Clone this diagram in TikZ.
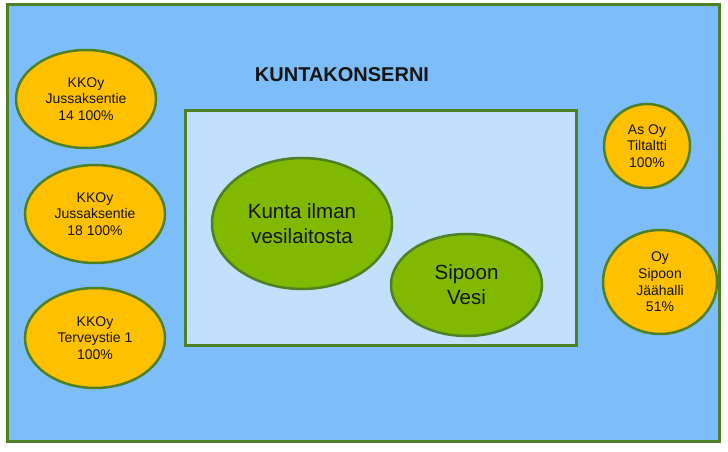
\documentclass[tikz,border=0pt]{standalone}
\usepackage{fontspec}
\setmainfont{Liberation Sans}
\usepackage{xcolor}
\usepackage{tikz}
\usetikzlibrary{shapes.geometric}
\definecolor{outerblue}{RGB}{125,190,250}
\definecolor{innerblue}{RGB}{192,224,252}
\definecolor{framegreen}{RGB}{78,128,36}
\definecolor{unitorange}{RGB}{255,192,0}
\definecolor{unitgreen}{RGB}{128,185,0}
\definecolor{textdark}{RGB}{20,20,20}

\begin{document}
\begin{tikzpicture}[x=1pt, y=1pt, node distance=115pt]
    \tikzstyle{frame} = [rectangle, draw=framegreen, line width=3pt, inner sep=0pt]
    \tikzstyle{company} = [ellipse, draw=framegreen, line width=2.5pt, fill=unitorange, inner sep=0pt, align=center, text=textdark, font=\fontsize{14}{16.7}\selectfont]
    \tikzstyle{core} = [ellipse, draw=framegreen, line width=2.5pt, fill=unitgreen, inner sep=0pt, align=center, text=textdark, font=\fontsize{20.5}{25}\selectfont]

    \useasboundingbox (0,0) rectangle (728,452);

    % Konserni frames
    \node [frame, fill=outerblue, minimum width=712pt, minimum height=437pt] (konserni) at (363,228.5) {};
    \node [frame, fill=innerblue, minimum width=391pt, minimum height=235pt] (kunta_box) at (380.5,223.5) {};
    \node [text=textdark, font=\bfseries\fontsize{20}{24}\selectfont] (title) at (342,377) {KUNTAKONSERNI};

    % Core of the municipality
    \node [core, minimum width=180pt, minimum height=131pt] (kunta) at (302,228.5) {Kunta ilman\\vesilaitosta};
    \node [core, minimum width=151pt, minimum height=102pt, right of=kunta, xshift=49.5pt, yshift=-61.5pt] (vesi) {Sipoon\\Vesi};

    % Housing companies on the left
    \node [company, minimum width=140pt, minimum height=98pt] (kkoy_a) at (86,353) {KKOy\\Jussaksentie\\14 100\%};
    \node [company, minimum width=140pt, minimum height=98pt, below of=kkoy_a, xshift=9pt] (kkoy_b) {KKOy\\Jussaksentie\\18 100\%};
    \node [company, minimum width=140pt, minimum height=100pt, below of=kkoy_b, yshift=-9pt] (kkoy_c) {KKOy\\Terveystie 1\\100\%};

    % Companies on the right
    \node [company, minimum width=86pt, minimum height=84pt] (asoy) at (647,306) {As Oy\\Tiltaltti\\100\%};
    \node [company, minimum width=114pt, minimum height=104pt, below of=asoy, xshift=13pt, yshift=-21pt] (jaahalli) {Oy\\Sipoon\\Jäähalli\\51\%};
\end{tikzpicture}
\end{document}
